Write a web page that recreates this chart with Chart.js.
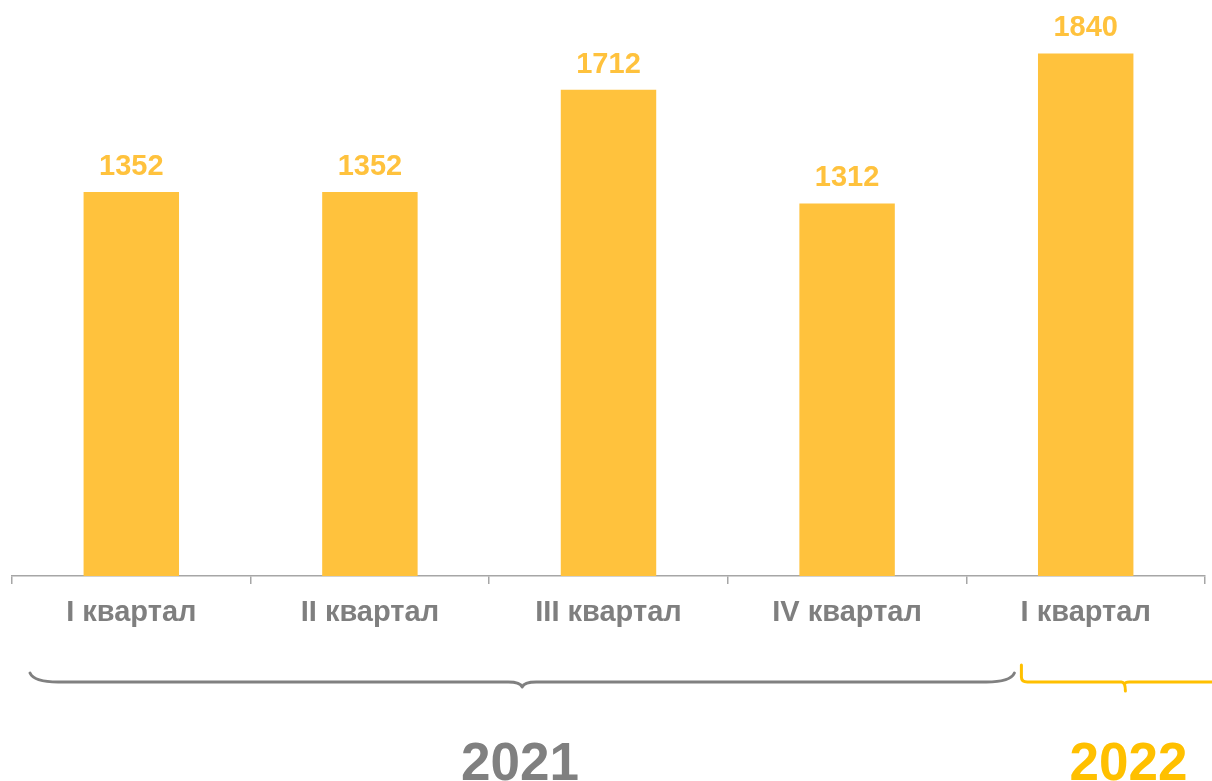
<!DOCTYPE html>
<html>
<head>
    <title>Квартальные значения</title>
    <script src="https://cdn.jsdelivr.net/npm/chart.js"></script>
    <style>
        html, body { margin: 0; padding: 0; background: #fff; }
        #wrap { width: 1212px; height: 781px; }
    </style>
</head>
<body>
    <div id="wrap">
        <canvas id="myChart" width="1212" height="781"></canvas>
    </div>

    <script>
        // data
        const quarters = ['I квартал', 'II квартал', 'III квартал', 'IV квартал', 'I квартал'];
        const values = [1352, 1352, 1712, 1312, 1840];
        const years = ['2021', '2022'];
        const yearColors = ['#808080', '#FFC000'];

        const barColor = '#FFC23D';
        const labelGray = '#7F7F7F';

        // value labels above bars
        const valueLabels = {
            id: 'valueLabels',
            afterDatasetsDraw(chart) {
                const ctx = chart.ctx;
                const meta = chart.getDatasetMeta(0);
                ctx.save();
                ctx.font = 'bold 29px "Liberation Sans", Arial, sans-serif';
                ctx.fillStyle = barColor;
                ctx.textAlign = 'center';
                ctx.textBaseline = 'alphabetic';
                meta.data.forEach((bar, i) => {
                    ctx.fillText(values[i], bar.x, bar.y - 17);
                });
                ctx.restore();
            }
        };

        // braces + year captions under the axis
        const yearBraces = {
            id: 'yearBraces',
            afterDraw(chart) {
                const ctx = chart.ctx;
                const x = chart.scales.x;
                const split = x.getPixelForValue(3.5);   // boundary between 2021 and 2022
                ctx.save();
                ctx.lineWidth = 3;
                ctx.lineCap = 'round';
                ctx.lineJoin = 'round';

                // 2021 brace - soft curled ends
                let x1 = x.left + 18, x2 = split + 48, mid = (x1 + x2) / 2;
                let yEnd = 673, yLine = 682, yTip = 687;
                ctx.strokeStyle = yearColors[0];
                ctx.beginPath();
                ctx.moveTo(x1, yEnd);
                ctx.quadraticCurveTo(x1 + 4, yLine, x1 + 28, yLine);
                ctx.lineTo(mid - 14, yLine);
                ctx.quadraticCurveTo(mid - 2, yLine, mid, yTip);
                ctx.quadraticCurveTo(mid + 2, yLine, mid + 14, yLine);
                ctx.lineTo(x2 - 28, yLine);
                ctx.quadraticCurveTo(x2 - 4, yLine, x2, yEnd);
                ctx.stroke();

                // 2022 brace - squarer ends, runs past the right edge
                x1 = split + 55; x2 = split + 263; mid = (x1 + x2) / 2;
                yEnd = 665; yLine = 682; yTip = 691;
                ctx.strokeStyle = yearColors[1];
                ctx.beginPath();
                ctx.moveTo(x1, yEnd);
                ctx.lineTo(x1, yLine - 5);
                ctx.quadraticCurveTo(x1, yLine, x1 + 6, yLine);
                ctx.lineTo(mid - 4, yLine);
                ctx.quadraticCurveTo(mid, yLine, mid, yTip);
                ctx.moveTo(mid, yLine + 1);
                ctx.quadraticCurveTo(mid, yLine, mid + 4, yLine);
                ctx.lineTo(x2 - 6, yLine);
                ctx.quadraticCurveTo(x2, yLine, x2, yLine - 5);
                ctx.lineTo(x2, yEnd);
                ctx.stroke();

                // year captions
                ctx.font = 'bold 53px "Liberation Sans", Arial, sans-serif';
                ctx.textAlign = 'center';
                ctx.textBaseline = 'alphabetic';
                ctx.fillStyle = yearColors[0];
                ctx.fillText(years[0], x.left + 508, 780);
                ctx.fillStyle = yearColors[1];
                ctx.fillText(years[1], split + 162, 780);
                ctx.restore();
            }
        };

        const ctx = document.getElementById('myChart').getContext('2d');
        const myChart = new Chart(ctx, {
            type: 'bar',
            data: {
                labels: quarters,
                datasets: [{
                    data: values,
                    backgroundColor: barColor,
                    borderWidth: 0,
                    barPercentage: 0.4,
                    categoryPercentage: 1
                }]
            },
            options: {
                responsive: false,
                animation: false,
                layout: { padding: { left: 12, right: 7, top: 8, bottom: 0 } },
                plugins: {
                    legend: { display: false },
                    tooltip: { enabled: false }
                },
                scales: {
                    x: {
                        offset: true,
                        grid: {
                            offset: true,
                            drawOnChartArea: false,
                            tickLength: 8,
                            color: '#A6A6A6',
                            lineWidth: 1.5
                        },
                        border: { color: '#A6A6A6', width: 1.5 },
                        ticks: {
                            color: labelGray,
                            padding: 12,
                            maxRotation: 0,
                            autoSkip: false,
                            font: { family: '"Liberation Sans", Arial, sans-serif', size: 29, weight: 'bold' }
                        },
                        afterFit(scale) { scale.height = 205; }
                    },
                    y: {
                        display: false,
                        beginAtZero: true,
                        min: 0,
                        max: 2000
                    }
                }
            },
            plugins: [valueLabels, yearBraces]
        });
    </script>
</body>
</html>
